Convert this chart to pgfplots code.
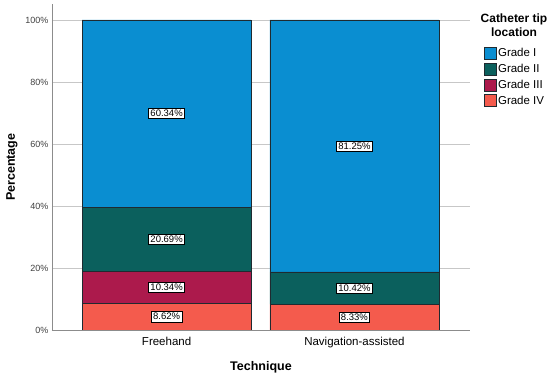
\documentclass[border=0pt]{standalone}
\usepackage{fontspec}
\setmainfont{Liberation Sans}
\usepackage{pgfplots}
\pgfplotsset{compat=1.18}
\definecolor{gI}{HTML}{0A8ED1}
\definecolor{gII}{HTML}{0B605D}
\definecolor{gIII}{HTML}{AC1A4C}
\definecolor{gIV}{HTML}{F45B4D}
\definecolor{edge}{HTML}{1F2A30}
\begin{document}
\begin{tikzpicture}[x=1pt,y=1pt]
\useasboundingbox (-52,-47) rectangle (498,330);
\pgfplotsset{common/.style={
  scale only axis, width=418pt, height=325.5pt,
  xmin=-0.61, xmax=1.615, ymin=0, ymax=105,
  at={(0,0)}, anchor=south west}}
\begin{axis}[common,
  ybar stacked, bar width=169pt,
  xtick={0,1}, xticklabels={Freehand,Navigation-assisted},
  ytick={0,20,40,60,80,100},
  yticklabel={\pgfmathprintnumber{\tick}\%},
  /pgf/number format/assume math mode=true,
  ymajorgrids, grid style={black!22, line width=0.8pt},
  axis x line*=bottom, axis y line*=left,
  axis line style={-, black!45, line width=0.8pt},
  major tick length=0pt,
  x tick label style={font=\fontsize{11.5}{13}\selectfont, yshift=-4pt},
  y tick label style={font=\fontsize{9}{10}\selectfont, text=black!75},
  xlabel={\bfseries Technique},
  ylabel={\bfseries Percentage},
  xlabel style={font=\fontsize{12.5}{14}\selectfont, at={(axis description cs:0.5,-0.114)}, anchor=center},
  ylabel style={font=\fontsize{12.5}{14}\selectfont, at={(axis description cs:-0.096,0.5)}, anchor=center, rotate=0},
  legend image code/.code={\draw[#1, draw=edge, line width=0.5pt] (0pt,-6pt) rectangle (12pt,6pt);},
  reverse legend,
  legend cell align=left,
  legend style={at={(1.032,0.8725)}, anchor=north west, draw=none, fill=none,
    font=\fontsize{11.5}{13}\selectfont, inner sep=0pt, row sep=2pt,
    /tikz/every even column/.append style={column sep=1pt}},
  every axis plot/.append style={draw=edge, line width=0.6pt}
]
\addplot[fill=gIV] coordinates {(0,8.62) (1,8.33)};
\addplot[fill=gIII] coordinates {(0,10.34) (1,0)};
\addplot[fill=gII] coordinates {(0,20.69) (1,10.42)};
\addplot[fill=gI] coordinates {(0,60.35) (1,81.25)};
\legend{Grade IV, Grade III, Grade II, Grade I}
\end{axis}
\begin{axis}[common, hide axis]
\addplot[draw=none, mark=none, nodes near coords={\pgfplotspointmeta\%},
  point meta=explicit symbolic,
  every node near coord/.style={anchor=center, fill=white, draw=black, line width=0.5pt,
    inner sep=1.8pt, font=\fontsize{9.5}{11}\selectfont}]
  table[meta=lab] {
x y lab
0 4.31 8.62
0 13.79 10.34
0 29.305 20.69
0 69.82 60.34
1 4.165 8.33
1 13.54 10.42
1 59.375 81.25
};
\end{axis}
\node[align=center, font=\bfseries\fontsize{12}{13.5}\selectfont, anchor=center] at (462,305) {Catheter tip\\location};
\end{tikzpicture}
\end{document}
